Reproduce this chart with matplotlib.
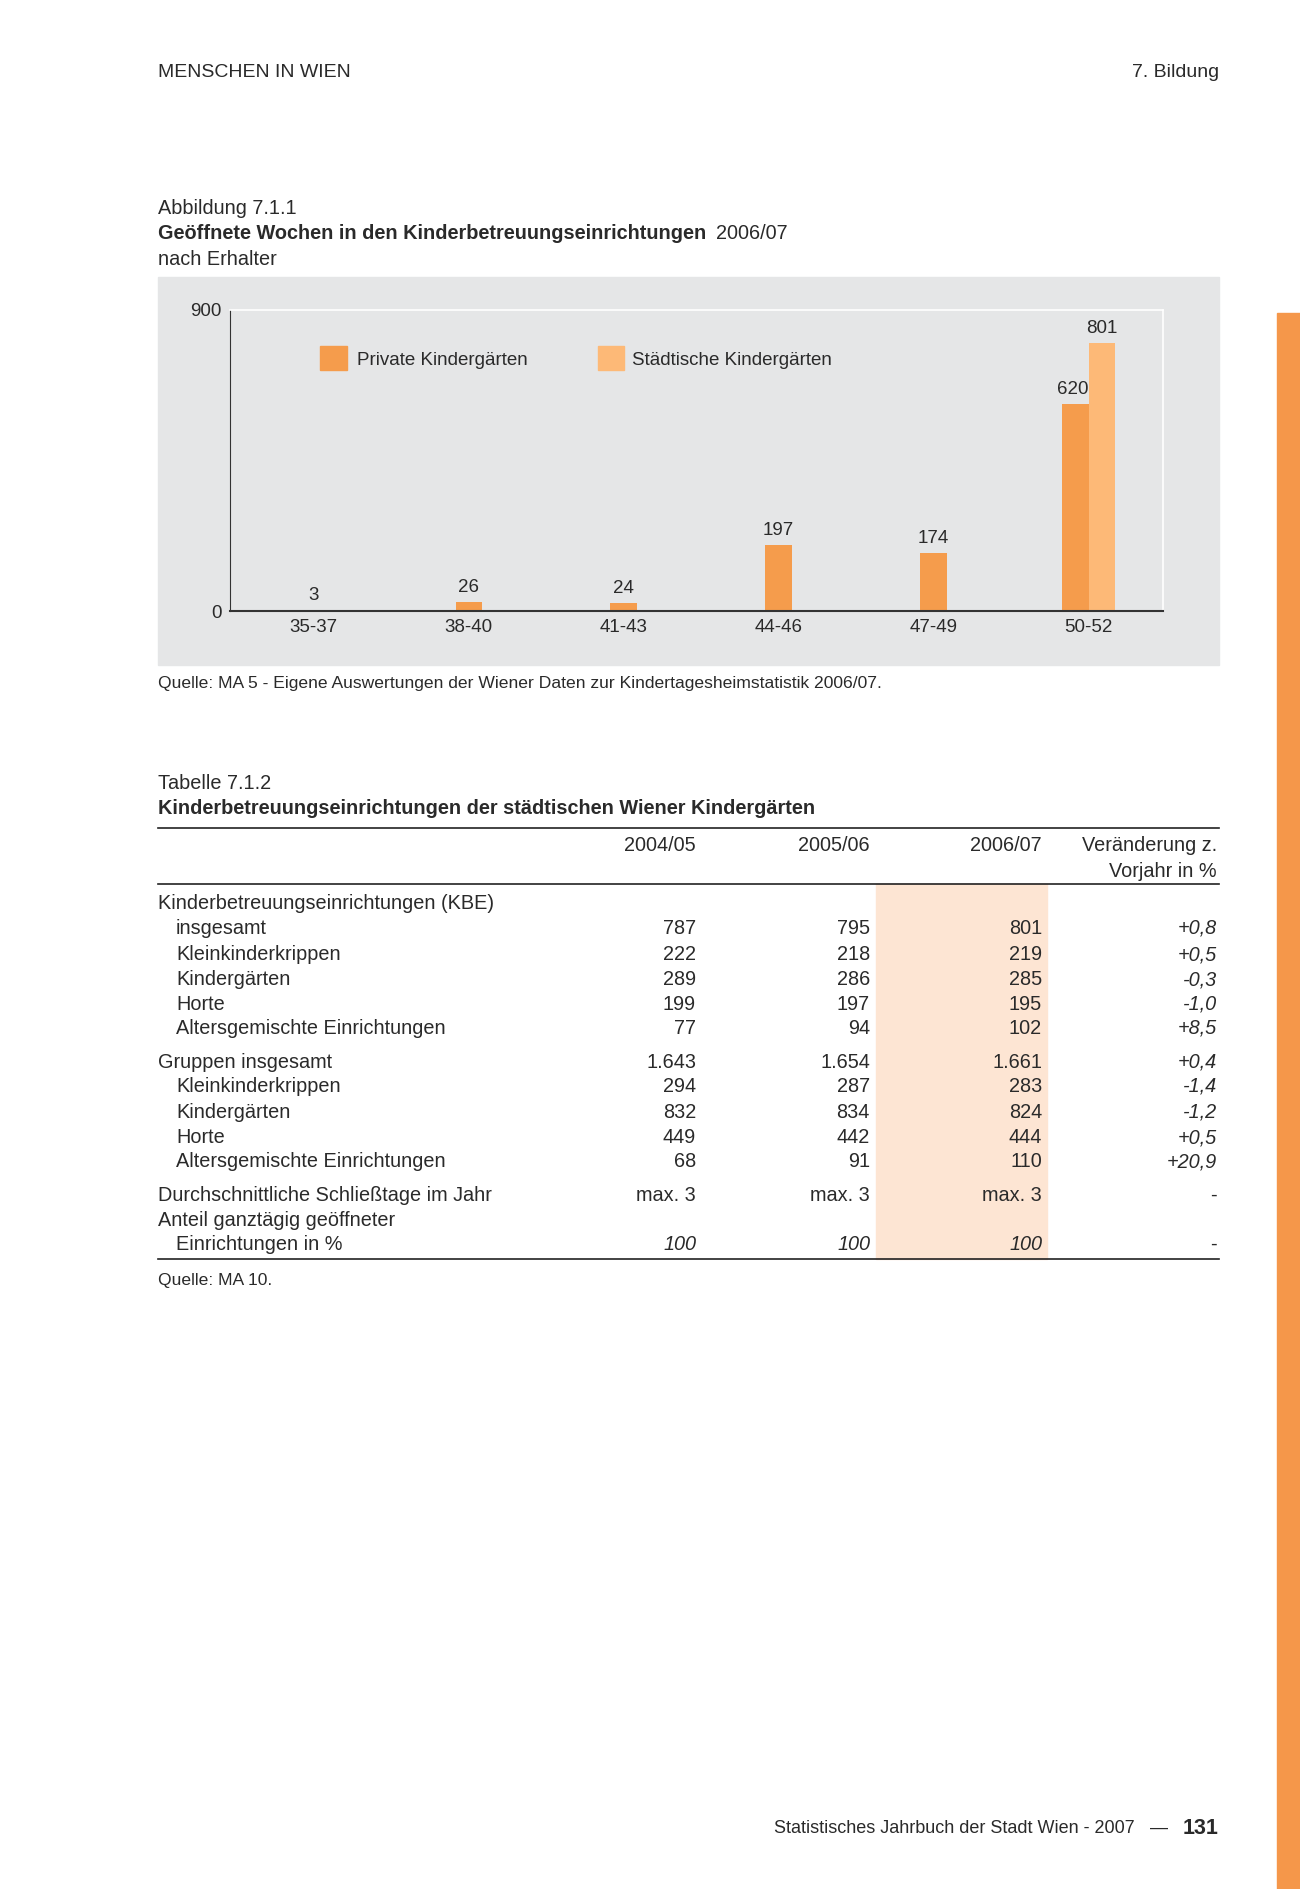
import matplotlib
matplotlib.use("Agg")
import matplotlib.pyplot as plt
from matplotlib.patches import Rectangle
from matplotlib.lines import Line2D

plt.rcParams['font.family'] = ['Liberation Sans', 'DejaVu Sans']

# --- Daten Abbildung 7.1.1 ---
wochen = ['35-37', '38-40', '41-43', '44-46', '47-49', '50-52']
private = [3, 26, 24, 197, 174, 620]
staedtisch = [0, 0, 0, 0, 0, 801]

# --- Daten Tabelle 7.1.2 ---
jahre = ['2004/05', '2005/06', '2006/07']
kbe_labels = ['insgesamt', 'Kleinkinderkrippen', 'Kindergärten', 'Horte', 'Altersgemischte Einrichtungen']
kbe_0405 = ['787', '222', '289', '199', '77']
kbe_0506 = ['795', '218', '286', '197', '94']
kbe_0607 = ['801', '219', '285', '195', '102']
kbe_veraend = ['+0,8', '+0,5', '-0,3', '-1,0', '+8,5']
grp_labels = ['Gruppen insgesamt', 'Kleinkinderkrippen', 'Kindergärten', 'Horte', 'Altersgemischte Einrichtungen']
grp_0405 = ['1.643', '294', '832', '449', '68']
grp_0506 = ['1.654', '287', '834', '442', '91']
grp_0607 = ['1.661', '283', '824', '444', '110']
grp_veraend = ['+0,4', '-1,4', '-1,2', '+0,5', '+20,9']
schliesstage = ['max. 3', 'max. 3', 'max. 3']
ganztaegig = ['100', '100', '100']

W, H = 1300, 1889
fig = plt.figure(figsize=(W / 100, H / 100), dpi=100)
fig.patch.set_facecolor('white')

TXT = '#2a2a2a'
ORANGE = '#F59C4C'
HELL = '#FDB977'


def fx(x):
    return x / W


def fy(y):
    return 1 - y / H


def t(x, y, s, size=14.3, ha='left', **kw):
    # kleine Verschiebung, damit die Schriftlinie wie im Original sitzt
    fig.text(fx(x), fy(y + 2.5), s, fontsize=size, ha=ha, va='center', color=TXT, **kw)


def hline(x0, x1, y, lw=1.2, color='#222222'):
    fig.add_artist(Line2D([fx(x0), fx(x1)], [fy(y), fy(y)], lw=lw, color=color,
                          transform=fig.transFigure))


# Kopfzeile und orangener Randstreifen
t(158, 70, 'MENSCHEN IN WIEN', size=14)
t(1219, 70, '7. Bildung', size=14, ha='right')
fig.add_artist(Rectangle((fx(1277), 0), fx(W) - fx(1277), fy(313), color='#F5974A',
                         transform=fig.transFigure, zorder=0))

# Abbildung
t(158, 206, 'Abbildung 7.1.1')
t(158, 231, 'Geöffnete Wochen in den Kinderbetreuungseinrichtungen', size=14.3,
  fontweight='bold', family=['Liberation Sans Narrow', 'Liberation Sans'])
t(716, 231, '2006/07')
t(158, 257, 'nach Erhalter')

fig.add_artist(Rectangle((fx(158), fy(665)), fx(1219) - fx(158), fy(277) - fy(665),
                         color='#E5E6E7', transform=fig.transFigure, zorder=0))

ax = fig.add_axes([fx(230), fy(611), fx(1163) - fx(230), fy(310) - fy(611)])
ax.set_facecolor('#E5E6E7')
w = 0.17
for i in range(len(wochen)):
    if staedtisch[i] > 0:
        xp, xs = i - w / 2, i + w / 2
        ax.bar(xs, staedtisch[i], width=w, color=HELL, zorder=2)
        ax.text(xs, staedtisch[i] + 18, str(staedtisch[i]), ha='center', va='bottom',
                fontsize=13.5, color=TXT)
    else:
        xp = i
    ax.bar(xp, private[i], width=w, color=ORANGE, zorder=2)
    ax.text(xp - (0.02 if staedtisch[i] > 0 else 0), private[i] + 18, str(private[i]),
            ha='center', va='bottom', fontsize=13.5, color=TXT)

ax.set_xlim(-0.54, 5.48)
ax.set_ylim(0, 900)
ax.set_yticks([0, 900])
ax.set_xticks(range(len(wochen)))
ax.set_xticklabels(wochen)
ax.tick_params(length=0, labelsize=13.5, labelcolor=TXT)
ax.tick_params(axis='x', pad=6)
ax.tick_params(axis='y', pad=6)
for side in ['top', 'right']:
    ax.spines[side].set_color('white')
    ax.spines[side].set_linewidth(1.2)
ax.spines['left'].set_color('#333333')
ax.spines['bottom'].set_color('#333333')
ax.spines['bottom'].set_linewidth(1.5)

# Legende
fig.add_artist(Rectangle((fx(320), fy(370)), fx(347) - fx(320), fy(346) - fy(370),
                         color=ORANGE, transform=fig.transFigure))
t(357, 358, 'Private Kindergärten', size=13.5)
fig.add_artist(Rectangle((fx(598), fy(370)), fx(624) - fx(598), fy(346) - fy(370),
                         color=HELL, transform=fig.transFigure))
t(632, 358, 'Städtische Kindergärten', size=13.5)

t(158, 681, 'Quelle: MA 5 - Eigene Auswertungen der Wiener Daten zur Kindertagesheimstatistik 2006/07.',
  size=12.6)

# Tabelle
t(158, 781, 'Tabelle 7.1.2')
t(158, 806, 'Kinderbetreuungseinrichtungen der städtischen Wiener Kindergärten', size=14.3,
  fontweight='bold', family=['Liberation Sans Narrow', 'Liberation Sans'])
hline(158, 1219, 828)
fig.add_artist(Rectangle((fx(876), fy(1259)), fx(1047) - fx(876), fy(884) - fy(1259),
                         color='#FDE5D3', transform=fig.transFigure, zorder=0))
col_x = [696, 870, 1042]
for cx, j in zip(col_x, jahre):
    t(cx, 843, j, ha='right')
t(1217, 843, 'Veränderung z.', ha='right')
t(1217, 869, 'Vorjahr in %', ha='right')
hline(158, 1219, 884)

t(158, 901, 'Kinderbetreuungseinrichtungen (KBE)')
rows_kbe = [926, 952, 977, 1002, 1026]
for k, y in enumerate(rows_kbe):
    t(176, y, kbe_labels[k])
    for cx, col in zip(col_x, [kbe_0405, kbe_0506, kbe_0607]):
        t(cx, y, col[k], ha='right')
    t(1217, y, kbe_veraend[k], ha='right', style='italic')

rows_grp = [1060, 1084, 1110, 1135, 1159]
for k, y in enumerate(rows_grp):
    t(158 if k == 0 else 176, y, grp_labels[k])
    for cx, col in zip(col_x, [grp_0405, grp_0506, grp_0607]):
        t(cx, y, col[k], ha='right')
    t(1217, y, grp_veraend[k], ha='right', style='italic')

t(158, 1193, 'Durchschnittliche Schließtage im Jahr')
for cx, v in zip(col_x, schliesstage):
    t(cx, 1193, v, ha='right')
t(1217, 1193, '-', ha='right')
t(158, 1218, 'Anteil ganztägig geöffneter')
t(176, 1242, 'Einrichtungen in %')
for cx, v in zip(col_x, ganztaegig):
    t(cx, 1242, v, ha='right', style='italic')
t(1217, 1242, '-', ha='right')
hline(158, 1219, 1259)
t(158, 1278, 'Quelle: MA 10.', size=12.6)

# Fußzeile
t(1135, 1826, 'Statistisches Jahrbuch der Stadt Wien - 2007', size=13, ha='right')
t(1159, 1826, '—', size=13, ha='center')
t(1219, 1826, '131', size=15.5, ha='right', fontweight='bold')

fig.savefig('out.png', dpi=100)
